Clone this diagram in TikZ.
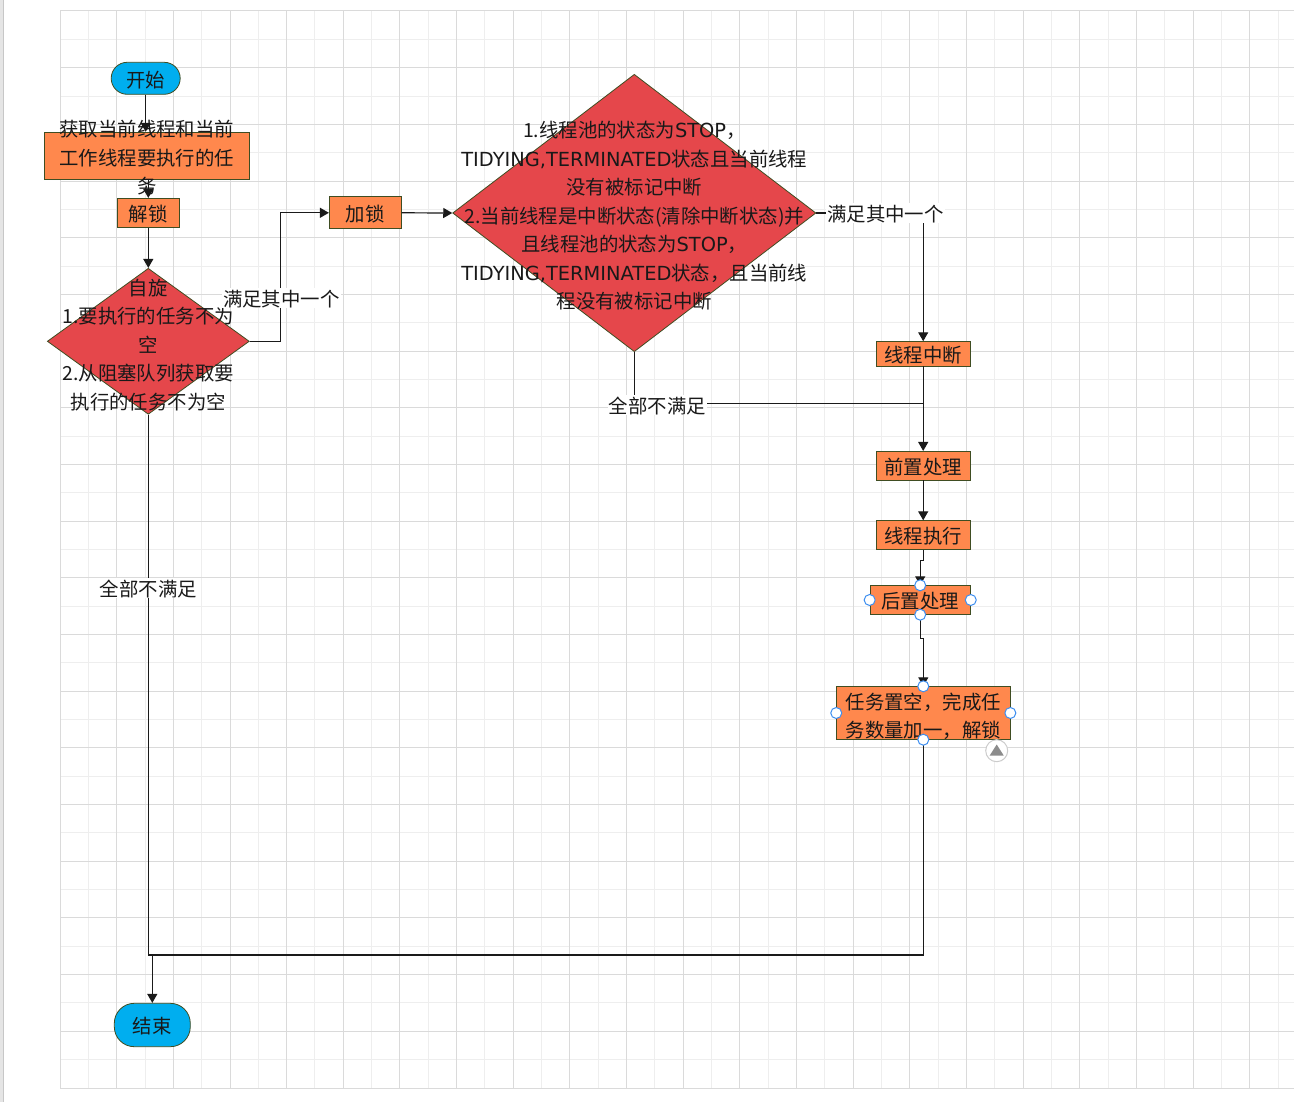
\documentclass[tikz,border=0pt]{standalone}
\usepackage{fontspec}
\setmainfont{Noto Sans CJK SC}
\newfontfamily\lat{DejaVu Sans}
\usetikzlibrary{shapes.geometric,arrows.meta}
\definecolor{cyanfill}{HTML}{00AEEF}
\definecolor{boxfill}{HTML}{FF884D}
\definecolor{redfill}{HTML}{E5474B}
\definecolor{edgecol}{HTML}{3F4D22}
\definecolor{griddark}{HTML}{DADADA}
\definecolor{gridlight}{HTML}{EEEEEE}
\definecolor{linecol}{HTML}{1A1A1A}
\definecolor{handlecol}{HTML}{3D8EF0}
\begin{document}
\begin{tikzpicture}[x=1pt,y=-1pt,
  every node/.style={font=\fontsize{19.4}{28.5}\selectfont, text=black!90},
  oneline/.style={text height=18.2pt, text depth=0.5pt},
  term/.style={draw=edgecol, fill=cyanfill, inner sep=0, line width=0.8, oneline},
  box/.style={draw=edgecol, fill=boxfill, inner sep=0, line width=0.8, oneline},
  dia/.style={diamond, draw=edgecol, fill=redfill, inner sep=0, line width=0.8},
  txt/.style={align=center, inner sep=0},
  lbl/.style={fill=white, inner sep=1, oneline},
  conn/.style={draw=linecol, line width=1.2},
  arr/.style={conn, -{Triangle[length=9pt,width=10pt]}},
  handle/.style={circle, draw=handlecol, fill=white, minimum size=11, inner sep=0, line width=1}]
\useasboundingbox (0,0) rectangle (1294,1102);
\fill[white] (0,0) rectangle (1294,1102);
\fill[black!10] (0,0) rectangle (3,1102);
\draw[black!22, line width=1] (3.2,0) -- (3.2,1102);
% grid
\foreach \k in {1,3,...,43} \draw[gridlight, line width=1] ({60+28.333*\k},11) -- ({60+28.333*\k},1088);
\foreach \k in {1,3,...,37} \draw[gridlight, line width=1] (60,{11+28.342*\k}) -- (1294,{11+28.342*\k});
\foreach \k in {0,2,...,42} \draw[griddark, line width=1] ({60+28.333*\k},11) -- ({60+28.333*\k},1088);
\foreach \k in {0,2,...,38} \draw[griddark, line width=1] (60,{11+28.342*\k}) -- (1294,{11+28.342*\k});

% nodes
\node[term, minimum width=69, minimum height=32, rounded corners=16] (start) at (145.7,78.3) {开始};
\node[box, minimum width=205, minimum height=47] (fetch) at (146.8,155.7) {};
\node[txt] (fetchtxt) at (146.8,158) {获取当前线程和当前\\工作线程要执行的任\\务};
\node[box, minimum width=62, minimum height=29] (unlock) at (148.3,212.8) {解锁};
\node[dia, minimum width=202, minimum height=146] (spin) at (148.3,341.3) {};
\node[txt] (spintxt) at (148.3,345) {自旋\\1.要执行的任务不为\\空\\2.从阻塞队列获取要\\执行的任务不为空};
\node[box, minimum width=72, minimum height=32] (lock) at (365.3,212.8) {加锁};
\node[dia, minimum width=363.3, minimum height=277.4] (check) at (634.3,213) {};
\node[txt] (checktxt) at (634.3,216) {1.线程池的状态为{\lat STOP}，\\{\lat TIDYING,TERMINATED}状态且当前线程\\没有被标记中断\\2.当前线程是中断状态(清除中断状态)并\\且线程池的状态为{\lat STOP}，\\{\lat TIDYING,TERMINATED}状态，且当前线\\程没有被标记中断};
\node[box, minimum width=94.3, minimum height=24.3] (interrupt) at (923.2,353.8) {线程中断};
\node[box, minimum width=94.3, minimum height=28.7] (before) at (923.2,465.7) {前置处理};
\node[box, minimum width=94.3, minimum height=28.6] (run) at (923.2,535) {线程执行};
\node[box, minimum width=100.3, minimum height=28.6] (after) at (920.2,600) {后置处理};
\node[box, minimum width=173.3, minimum height=52.6] (task) at (923.3,713) {};
\node[txt] (tasktxt) at (923.3,716.5) {任务置空，完成任\\务数量加一，解锁};
\node[term, minimum width=76, minimum height=43.4, rounded corners=20] (end) at (152.3,1025) {结束};

% connectors
\coordinate (b1) at (280.7,341.3);
\coordinate (merge) at (923.2,403.3);
\coordinate (corner) at (148.3,955);
\coordinate (join) at (152.3,955);
\draw[arr] (start.south) -- (start.south |- fetch.north);
\draw[arr] (fetch.south -| unlock.north) -- (unlock.north);
\draw[arr] (unlock.south) -- (spin.north);
\draw[arr] (spin.east) -- (b1) |- (lock.west);
\draw[arr] (lock.east) -- (check.west);
\draw[arr] (check.east) -| (interrupt.north);
\draw[conn] (check.south) |- (merge);
\draw[arr] (interrupt.south) -- (before.north);
\draw[arr] (before.south) -- (run.north);
\draw[arr] (run.south) -- ++(0,11) -| (after.north);
\draw[arr] (after.south) -- ++(0,24) -| (task.north);
\draw[conn] (spin.south) -- (corner);
\draw[conn] (task.south) |- (corner);
\draw[arr] (join) -- (end.north);

% labels
\node[lbl] (l1) at (281.3,298) {满足其中一个};
\node[lbl] (l2) at (885.5,213) {满足其中一个};
\node[lbl] (l3) at (657.3,405) {全部不满足};
\node[lbl] (l4) at (148.3,588) {全部不满足};

% selection handles
\foreach \a in {north,south,east,west} \node[handle] (ha-\a) at (after.\a) {};
\foreach \a in {north,south,east,west} \node[handle] (ht-\a) at (task.\a) {};
\node[circle, draw=black!20, fill=white, minimum size=22, inner sep=0, line width=1] (tog) at (996.7,750.7) {};
\fill[black!45] (989.7,755.5) -- (1003.7,755.5) -- (996.7,744.5) -- cycle;
\end{tikzpicture}
\end{document}
